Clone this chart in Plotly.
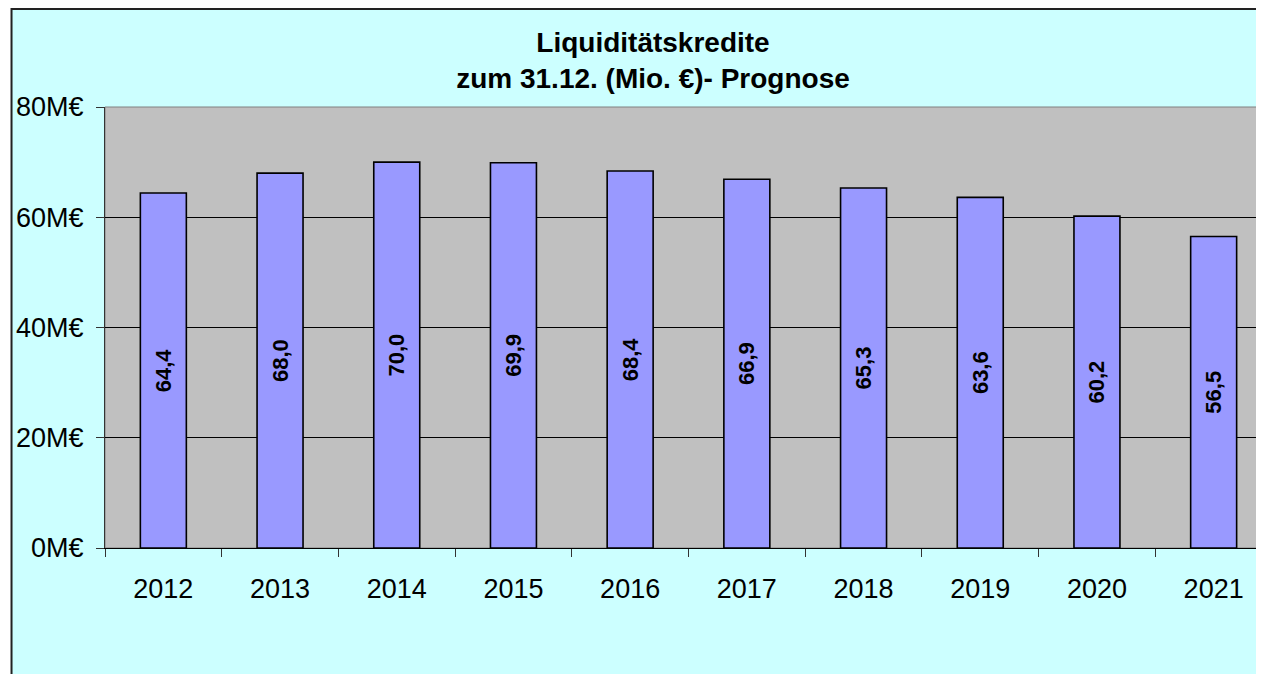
import plotly.graph_objects as go

years = ["2012", "2013", "2014", "2015", "2016", "2017", "2018", "2019", "2020", "2021"]
kredite = [64.4, 68.0, 70.0, 69.9, 68.4, 66.9, 65.3, 63.6, 60.2, 56.5]
y_ticks = [0, 20, 40, 60, 80]
y_tick_labels = ["0M€", "20M€", "40M€", "60M€", "80M€"]

font_family = "Liberation Sans, Arial, sans-serif"

fig = go.Figure(
    go.Bar(
        x=years,
        y=kredite,
        marker=dict(color="#9999FF", line=dict(color="black", width=1.6)),
        texttemplate="%{y:.1f}",
        textposition="inside",
        insidetextanchor="middle",
        textangle=-90,
        constraintext="none",
        textfont=dict(family=font_family, size=22, color="black", weight="bold"),
        hoverinfo="skip",
    )
)

# page body has an 8px margin; the figure runs past the right edge like the original
fig.update_layout(
    width=1264,
    height=666,
    margin=dict(l=97, r=0, t=99, b=126),
    paper_bgcolor="white",
    plot_bgcolor="#C0C0C0",
    separators=",.",
    bargap=0.606,
    showlegend=False,
    font=dict(family=font_family, color="black"),
    title=dict(
        text="<b>Liquiditätskredite<br>zum 31.12. (Mio. €)- Prognose</b>",
        font=dict(size=28, family=font_family, color="black"),
        x=645 / 1264,
        xanchor="center",
        xref="container",
        y=1 - 44 / 666,
        yanchor="top",
        yref="container",
    ),
    shapes=[
        dict(type="rect", xref="paper", yref="paper", layer="below",
             x0=-0.0801, x1=1.02, y0=-0.35, y1=1.2222,
             fillcolor="#CCFFFF", line=dict(color="#222222", width=2)),
        dict(type="rect", xref="paper", yref="paper", layer="below",
             x0=0, x1=1.02, y0=0, y1=1,
             fillcolor="#C0C0C0", line=dict(color="#808080", width=1)),
    ],
)

fig.update_xaxes(
    type="category",
    range=[-0.5, 9.5],
    showgrid=False,
    showline=True,
    linecolor="black",
    linewidth=1,
    ticks="outside",
    tickson="boundaries",
    ticklen=8,
    tickcolor="#333333",
    ticklabelstandoff=17,
    tickfont=dict(size=27, family=font_family, color="black"),
)

fig.update_yaxes(
    range=[0, 80],
    tickvals=y_ticks,
    ticktext=y_tick_labels,
    showgrid=True,
    gridcolor="black",
    gridwidth=1,
    zeroline=False,
    showline=True,
    linecolor="#333333",
    linewidth=1,
    ticks="outside",
    ticklen=8,
    tickcolor="#333333",
    ticklabelstandoff=7,
    tickfont=dict(size=27, family=font_family, color="black"),
)

fig.write_html("out.html")
